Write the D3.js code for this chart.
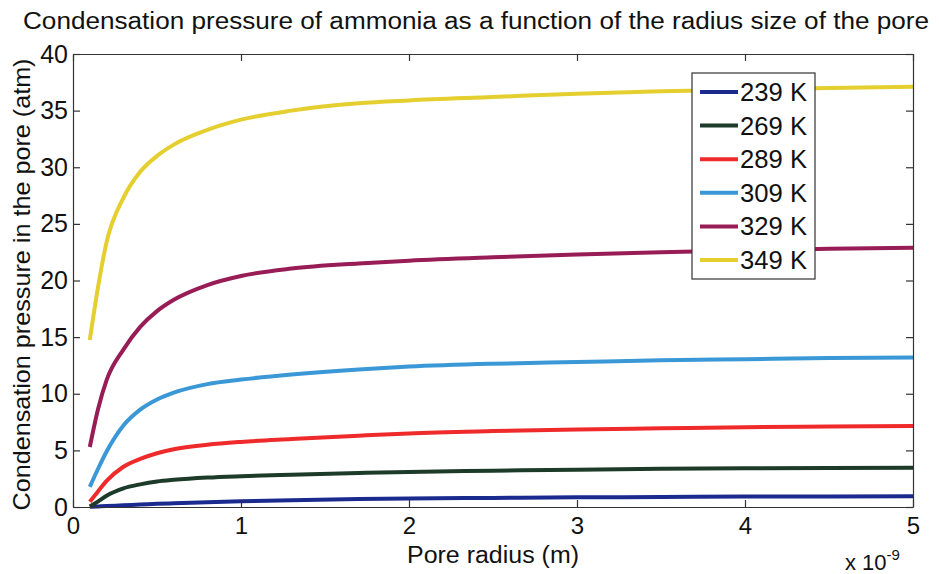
<!DOCTYPE html>
<html>
<head>
<meta charset="utf-8">
<script src="https://cdn.jsdelivr.net/npm/d3@7"></script>
<style>
  html, body { margin: 0; padding: 0; background: #fff; }
  svg { display: block; }
  text { font-family: "Liberation Sans", Arial, sans-serif; fill: #111; }
</style>
</head>
<body>
<svg id="chart" width="939" height="574"></svg>
<script>
// Pore radius, in units of 1e-9 m
const radius = [0.1, 0.15, 0.2, 0.3, 0.4, 0.5, 0.6, 0.8, 1.0, 1.3, 1.7, 2.0, 2.5, 3.0, 3.5, 4.0, 4.5, 5.0];

// Condensation pressure (atm) for each temperature
const temperatures = ["239 K", "269 K", "289 K", "309 K", "329 K", "349 K"];
const p239 = [0.02, 0.05, 0.08, 0.15, 0.21, 0.28, 0.33, 0.42, 0.50, 0.60, 0.70, 0.75, 0.80, 0.85, 0.88, 0.92, 0.93, 0.95];
const p269 = [0.05, 0.50, 1.00, 1.65, 2.00, 2.25, 2.40, 2.60, 2.72, 2.85, 3.00, 3.10, 3.20, 3.30, 3.37, 3.42, 3.45, 3.47];
const p289 = [0.47, 1.40, 2.30, 3.55, 4.25, 4.75, 5.10, 5.50, 5.75, 6.00, 6.30, 6.50, 6.70, 6.85, 6.95, 7.05, 7.10, 7.15];
const p309 = [1.78, 3.40, 4.90, 7.20, 8.60, 9.50, 10.10, 10.85, 11.25, 11.70, 12.15, 12.40, 12.65, 12.80, 12.95, 13.05, 13.15, 13.20];
const p329 = [5.30, 8.70, 11.20, 13.90, 15.90, 17.30, 18.30, 19.60, 20.40, 21.05, 21.50, 21.75, 22.05, 22.30, 22.50, 22.65, 22.80, 22.90];
const p349 = [14.75, 19.50, 23.40, 27.30, 29.60, 31.00, 32.00, 33.30, 34.20, 35.00, 35.65, 35.90, 36.20, 36.50, 36.70, 36.85, 37.00, 37.10];
const pressures = [p239, p269, p289, p309, p329, p349];
const colors = ["#1b2a8e", "#1c3b29", "#ef2a2b", "#3b98d6", "#981c55", "#e5cf2f"];

const xTicks = [0, 1, 2, 3, 4, 5];
const yTicks = [0, 5, 10, 15, 20, 25, 30, 35, 40];

const svg = d3.select("#chart");
const plotLeft = 73, plotRight = 913, plotTop = 54, plotBottom = 507;

const x = d3.scaleLinear().domain([0, 5]).range([plotLeft, plotRight]);
const y = d3.scaleLinear().domain([0, 40]).range([plotBottom, plotTop]);

// Title
svg.append("text")
  .attr("x", 476).attr("y", 29)
  .attr("text-anchor", "middle")
  .attr("font-size", 23)
  .attr("textLength", 906).attr("lengthAdjust", "spacingAndGlyphs")
  .text("Condensation pressure of ammonia as a function of the radius size of the pore");

// Curves
const line = d3.line()
  .x((d, i) => x(radius[i]))
  .y(d => y(d))
  .curve(d3.curveMonotoneX);

svg.append("g").selectAll("path")
  .data(pressures)
  .join("path")
  .attr("d", d => line(d))
  .attr("fill", "none")
  .attr("stroke", (d, i) => colors[i])
  .attr("stroke-width", 4)
  .attr("stroke-linejoin", "round");

// Axes with inward ticks on all four sides
const axisStyle = g => {
  g.selectAll(".domain").attr("stroke", "#333").attr("stroke-width", 1.2);
  g.selectAll(".tick line").attr("stroke", "#333").attr("stroke-width", 1.2);
  g.selectAll(".tick text").attr("font-family", "Liberation Sans, Arial, sans-serif").attr("fill", "#111");
};

svg.append("g")
  .attr("transform", `translate(0,${plotBottom})`)
  .call(d3.axisBottom(x).tickValues(xTicks).tickSizeInner(-7).tickSizeOuter(0).tickPadding(10).tickFormat(d3.format("d")))
  .call(axisStyle)
  .call(g => g.selectAll(".tick text").attr("font-size", 24));

svg.append("g")
  .attr("transform", `translate(0,${plotTop})`)
  .call(d3.axisTop(x).tickValues(xTicks).tickSizeInner(-7).tickSizeOuter(0).tickFormat(""))
  .call(axisStyle);

svg.append("g")
  .attr("transform", `translate(${plotLeft},0)`)
  .call(d3.axisLeft(y).tickValues(yTicks).tickSizeInner(-7).tickSizeOuter(0).tickPadding(5).tickFormat(d3.format("d")))
  .call(axisStyle)
  .call(g => g.selectAll(".tick text").attr("font-size", 25));

svg.append("g")
  .attr("transform", `translate(${plotRight},0)`)
  .call(d3.axisRight(y).tickValues(yTicks).tickSizeInner(-7).tickSizeOuter(0).tickFormat(""))
  .call(axisStyle);

// Axis titles
svg.append("text")
  .attr("x", 493).attr("y", 563)
  .attr("text-anchor", "middle")
  .attr("font-size", 23)
  .attr("textLength", 172).attr("lengthAdjust", "spacingAndGlyphs")
  .text("Pore radius (m)");

svg.append("text")
  .attr("transform", `translate(30,${(plotTop + plotBottom) / 2 + 4}) rotate(-90)`)
  .attr("text-anchor", "middle")
  .attr("font-size", 24)
  .attr("textLength", 452).attr("lengthAdjust", "spacingAndGlyphs")
  .text("Condensation pressure in the pore (atm)");

// Axis multiplier
const mult = svg.append("text")
  .attr("x", 845).attr("y", 570)
  .attr("font-size", 22);
mult.append("tspan").text("x 10");
mult.append("tspan").attr("dy", -10).attr("font-size", 15).text("-9");

// Legend
const legend = svg.append("g");
legend.append("rect")
  .attr("x", 692).attr("y", 73).attr("width", 123).attr("height", 206)
  .attr("fill", "#fff").attr("stroke", "#333").attr("stroke-width", 1.2);

const rows = legend.selectAll("g.row")
  .data(temperatures)
  .join("g")
  .attr("class", "row")
  .attr("transform", (d, i) => `translate(0,${92 + i * 33.6})`);

rows.append("line")
  .attr("x1", 700).attr("x2", 738)
  .attr("stroke", (d, i) => colors[i])
  .attr("stroke-width", 4);

rows.append("text")
  .attr("x", 740).attr("y", 9)
  .attr("font-size", 25)
  .attr("textLength", 67).attr("lengthAdjust", "spacingAndGlyphs")
  .text(d => d);
</script>
</body>
</html>
